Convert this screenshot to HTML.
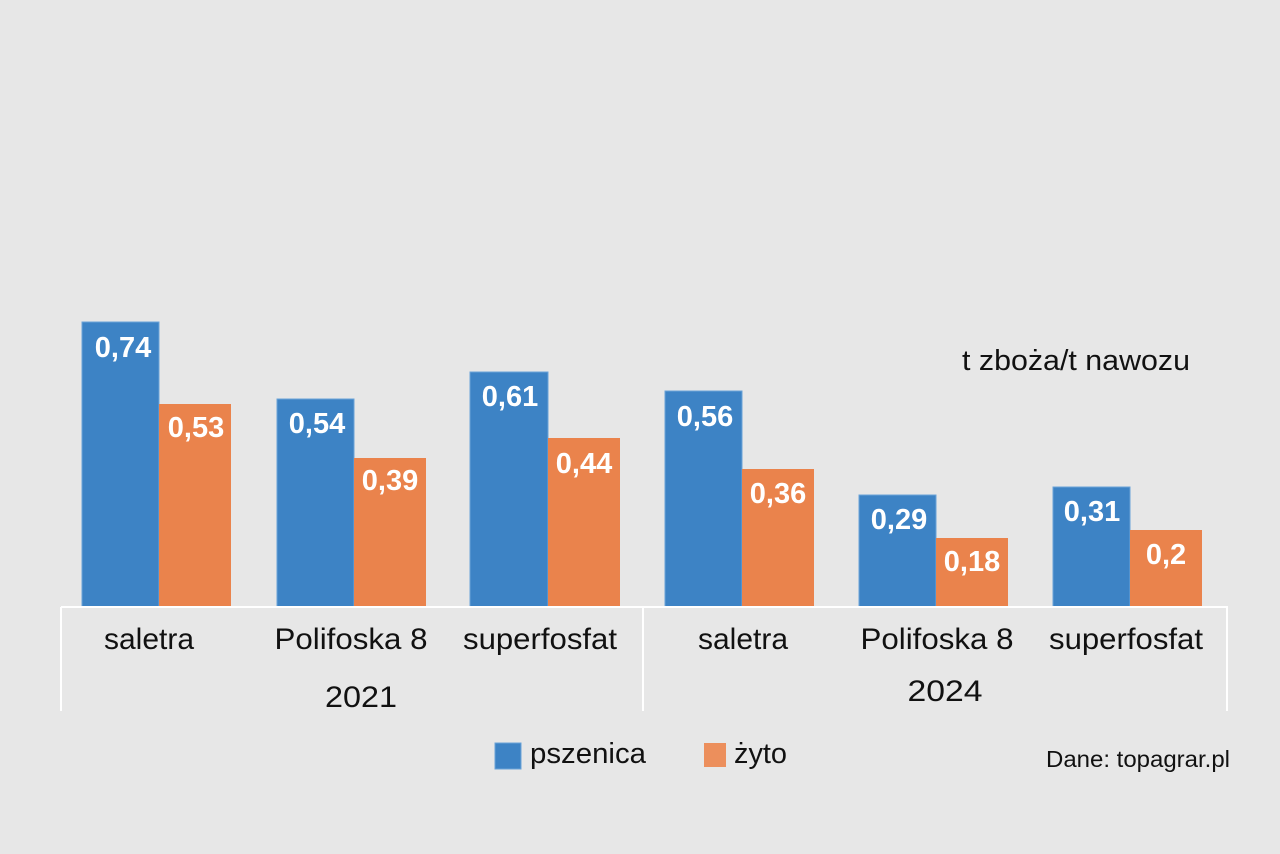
<!DOCTYPE html>
<html><head><meta charset="utf-8"><style>
html,body{margin:0;padding:0;background:#e7e7e7}
svg{display:block}
text{font-family:"Liberation Sans",Arial,sans-serif}
.v{fill:#fff;font-weight:bold;font-size:29px;text-anchor:middle}
.c{fill:#111;font-size:30px;text-anchor:middle}
</style></head><body>
<svg width="1280" height="854" viewBox="0 0 1280 854">
<rect width="1280" height="854" fill="#e7e7e7"/>
<g fill="#3d83c5" stroke="#6aa3d8" stroke-width="1">
<rect x="82" y="322" width="77" height="285"/>
<rect x="277" y="399" width="77" height="208"/>
<rect x="470" y="372" width="78" height="235"/>
<rect x="665" y="391" width="77" height="216"/>
<rect x="859" y="495" width="77" height="112"/>
<rect x="1053" y="487" width="77" height="120"/>
</g>
<g fill="#ea834c">
<rect x="159" y="404" width="72" height="203"/>
<rect x="354" y="458" width="72" height="149"/>
<rect x="548" y="438" width="72" height="169"/>
<rect x="742" y="469" width="72" height="138"/>
<rect x="936" y="538" width="72" height="69"/>
<rect x="1130" y="530" width="72" height="77"/>
</g>
<g>
<text x="123" y="357" class="v">0,74</text>
<text x="196" y="437" class="v">0,53</text>
<text x="317" y="433" class="v">0,54</text>
<text x="390" y="490" class="v">0,39</text>
<text x="510" y="406" class="v">0,61</text>
<text x="584" y="473" class="v">0,44</text>
<text x="705" y="426" class="v">0,56</text>
<text x="778" y="503" class="v">0,36</text>
<text x="899" y="529" class="v">0,29</text>
<text x="972" y="571" class="v">0,18</text>
<text x="1092" y="521" class="v">0,31</text>
<text x="1166" y="564" class="v">0,2</text>
</g>
<g stroke="#fff" stroke-width="2" fill="none">
<line x1="61" y1="607" x2="1228" y2="607"/>
<line x1="61" y1="607" x2="61" y2="711"/>
<line x1="643" y1="607" x2="643" y2="711"/>
<line x1="1227" y1="607" x2="1227" y2="711"/>
</g>
<text x="149" y="649" class="c" textLength="90" lengthAdjust="spacingAndGlyphs">saletra</text>
<text x="351" y="649" class="c" textLength="153" lengthAdjust="spacingAndGlyphs">Polifoska 8</text>
<text x="540" y="649" class="c" textLength="154" lengthAdjust="spacingAndGlyphs">superfosfat</text>
<text x="743" y="649" class="c" textLength="90" lengthAdjust="spacingAndGlyphs">saletra</text>
<text x="937" y="649" class="c" textLength="153" lengthAdjust="spacingAndGlyphs">Polifoska 8</text>
<text x="1126" y="649" class="c" textLength="154" lengthAdjust="spacingAndGlyphs">superfosfat</text>
<text x="361" y="707" class="c" textLength="72" lengthAdjust="spacingAndGlyphs">2021</text>
<text x="945" y="701" class="c" textLength="75" lengthAdjust="spacingAndGlyphs">2024</text>
<text x="962" y="370" fill="#111" font-size="29" textLength="228" lengthAdjust="spacingAndGlyphs">t zboża/t nawozu</text>
<rect x="495" y="743" width="26" height="26" fill="#3d83c5" stroke="#6aa3d8"/>
<text x="530" y="763" fill="#111" font-size="29" textLength="116" lengthAdjust="spacingAndGlyphs">pszenica</text>
<rect x="704" y="743" width="22" height="24" fill="#ec8f5c"/>
<text x="734" y="763" fill="#111" font-size="29" textLength="53" lengthAdjust="spacingAndGlyphs">żyto</text>
<text x="1046" y="767" fill="#111" font-size="23" textLength="184" lengthAdjust="spacingAndGlyphs">Dane: topagrar.pl</text>
</svg>
</body></html>
